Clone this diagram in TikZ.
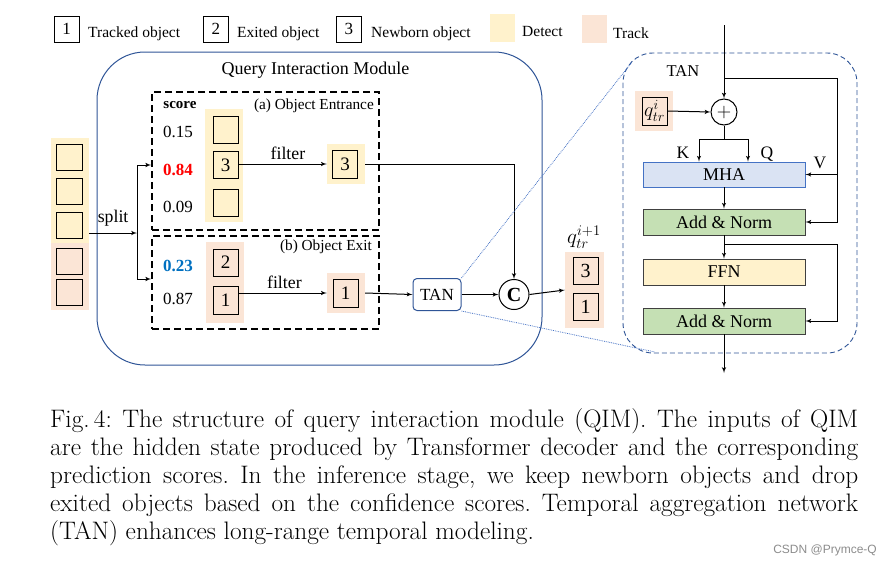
\RequirePackage{fix-cm}
\documentclass[tikz,border=0pt]{standalone}
\usepackage{fontspec}
\newfontfamily\tnr{Liberation Serif}
\newfontfamily\wmfont{Liberation Sans}
\usetikzlibrary{arrows}
\usetikzlibrary{positioning, calc}

\definecolor{detect}{HTML}{FFF2CC}
\definecolor{track}{HTML}{FBE5D6}
\definecolor{qimblue}{HTML}{2F5597}
\definecolor{dotblue}{HTML}{4472C4}
\definecolor{mhablue}{HTML}{DAE3F3}
\definecolor{normgreen}{HTML}{C5E0B4}
\definecolor{scorered}{HTML}{FF0000}
\definecolor{scoreblue}{HTML}{0070C0}

\newcommand{\fsz}[1]{\fontsize{#1}{#1}\selectfont}

\begin{document}
\begin{tikzpicture}[x=1pt,y=-1pt,>=latex',
  obj/.style={draw,line width=0.9pt,minimum width=25pt,minimum height=27pt,inner sep=0pt,font=\tnr\fsz{19}},
  colfill/.style={inner sep=0pt,minimum width=38pt},
  block/.style={draw=black!75,line width=0.8pt,minimum width=162pt,minimum height=26pt,inner sep=0pt,font=\tnr\fsz{18}},
  flow/.style={->,line width=1pt},
  stagebox/.style={draw,line width=1.6pt,dash pattern=on 7pt off 4pt,inner sep=0pt},
  txt/.style={font=\tnr\fsz{#1},inner sep=0pt},
  capline/.style={anchor=base west,inner sep=0pt,font=\fsz{25.3}\frenchspacing},
]

\useasboundingbox (0,0) rectangle (891,565);

% legend
\node[obj,minimum height=26pt,font=\tnr\fsz{17}] (leg-1) at (66.5,29) {1};
\node[txt=15.5,anchor=base west] (leg-1-txt) at (88,37.5) {Tracked object};
\node[obj,minimum height=26pt,font=\tnr\fsz{17}] (leg-2) at (215.8,29) {2};
\node[txt=15.5,anchor=base west] (leg-2-txt) at (237,37.5) {Exited object};
\node[obj,minimum height=26pt,font=\tnr\fsz{17}] (leg-3) at (348.8,29) {3};
\node[txt=15.5,anchor=base west] (leg-3-txt) at (371,37.5) {Newborn object};
\node[colfill,fill=detect,minimum width=25pt,minimum height=28pt] (leg-det) at (502.5,28) {};
\node[txt=15.5,anchor=base west] (leg-det-txt) at (522,36) {Detect};
\node[colfill,fill=track,minimum width=25pt,minimum height=28pt] (leg-trk) at (594.5,29) {};
\node[txt=15.5,anchor=base west] (leg-trk-txt) at (613,38.3) {Track};

% input queries
\node[colfill,fill=detect,minimum height=105pt] (in-det) at (70,190.5) {};
\node[colfill,fill=track,minimum height=67pt] (in-trk) at (70,276.5) {};
\foreach \y [count=\i] in {157,191,225.5,261,292}
  \node[obj,minimum width=26pt,minimum height=26pt] (in-\i) at (69.5,\y) {};

% query interaction module
\draw[qimblue,line width=1pt,rounded corners=48pt] (97,52) rectangle (542,365);
\node[txt=18,anchor=base] (qim) at (315.5,74) {Query Interaction Module};

\node[stagebox,minimum width=227pt,minimum height=138pt] (entr) at (265.5,161) {};
\node[stagebox,minimum width=227pt,minimum height=93pt] (exit) at (265.5,282.5) {};

% (a) object entrance
\node[txt=15,font=\tnr\bfseries\fsz{15},anchor=base] (score) at (180,108) {score};
\node[txt=15.3,anchor=base east] (entr-txt) at (374,109.5) {(a) Object Entrance};
\node[txt=17,anchor=base west] (s-1) at (163,137.5) {0.15};
\node[txt=17,anchor=base west,font=\tnr\bfseries\fsz{17},text=scorered] (s-2) at (163,175) {0.84};
\node[txt=17,anchor=base west] (s-3) at (163,212) {0.09};
\node[colfill,fill=detect,minimum height=113pt] (det-fill) at (224,165.5) {};
\node[obj] (det-1) at (225.5,130) {};
\node[obj] (det-2) at (225.5,165) {3};
\node[obj] (det-3) at (225.5,203) {};
\node[colfill,fill=detect,minimum height=40pt] (newq-fill) at (346,164) {};
\node[obj,minimum height=28pt] (newq) at (345,164) {3};
\draw[flow] (det-2.east |- newq-fill) -- node[above=4pt,pos=0.56,txt=17.8] (filt-a) {filter} (newq-fill.west);

% (b) object exit
\node[txt=15.3,anchor=base east] (exit-txt) at (372,250.7) {(b) Object Exit};
\node[txt=17,anchor=base west,font=\tnr\bfseries\fsz{17},text=scoreblue] (s-4) at (163,271) {0.23};
\node[txt=17,anchor=base west] (s-5) at (163,304) {0.87};
\node[colfill,fill=track,minimum height=81pt] (trk-fill) at (225,282.5) {};
\node[obj] (trk-1) at (225.5,262.5) {2};
\node[obj,minimum height=28pt] (trk-2) at (225.5,300) {1};
\node[colfill,fill=track,minimum height=40pt] (exitq-fill) at (346,293) {};
\node[obj,minimum height=28pt] (exitq) at (345.5,293) {1};
\draw[flow] (trk-2.east |- exitq-fill) -- node[above=4pt,pos=0.52,txt=17.8] (filt-b) {filter} (exitq-fill.west);

% split
\coordinate (split) at (137,233);
\draw[flow] (in-det.east |- split) -- node[above=6pt,txt=17.8] (split-txt) {split} (split);
\draw[flow] (split) |- (entr.west |- det-2);
\draw[flow] (split) |- (exit.west |- 0,279);

% tan and concat
\node[draw=qimblue,line width=1pt,rounded corners=4pt,minimum width=48pt,minimum height=32pt,txt=17] (tan) at (437,294.5) {TAN};
\node[circle,draw,line width=1pt,minimum size=30pt,inner sep=0pt,font=\tnr\bfseries\fsz{20}] (cat) at (514,294.5) {C};
\draw[flow] (exitq-fill.east) -- (tan.west);
\draw[flow] (tan.east) -- (cat.west);
\draw[flow] (newq-fill.east) -| (cat.north);

% output
\node[colfill,fill=track,minimum width=39pt,minimum height=76pt] (out-fill) at (584.5,290) {};
\node[obj,font=\tnr\fsz{20}] (out-1) at (585.5,271) {3};
\node[obj,font=\tnr\fsz{20}] (out-2) at (585.5,306.5) {1};
\node[inner sep=0pt,anchor=base] (out-txt) at (584,243) {\fsz{21}$q_{tr}^{i+1}$};
\draw[flow] (cat.east) -- (out-fill.west);

% tan detail
\draw[qimblue,line width=0.9pt,dash pattern=on 5pt off 3pt,rounded corners=30pt] (623,53) rectangle (857,353);
\node[txt=16.5,anchor=base] (tan-txt) at (683,76) {TAN};
\node[circle,draw,line width=1pt,minimum size=26pt,inner sep=0pt] (add) at (724,112) {\fsz{20}$+$};
\node[colfill,fill=track,minimum height=40pt] (q-fill) at (654,111) {};
\node[obj,minimum height=28pt] (q-in) at (654.5,111) {\fsz{20}$q_{tr}^{i}$};
\node[block,draw=dotblue,fill=mhablue,minimum height=25pt] (mha) at (724,174.5) {MHA};
\node[block,fill=normgreen] (an-1) at (724,222) {Add \& Norm};
\node[block,fill=detect] (ffn) at (724,272) {FFN};
\node[block,fill=normgreen] (an-2) at (724,321) {Add \& Norm};

\coordinate (t-in) at (724,25);
\coordinate (v-split) at (724,78);
\coordinate (v-turn) at (837,78);
\coordinate (kq) at (724,139);
\coordinate (r-split) at (724,244);
\coordinate (r-turn) at (837,244);
\coordinate (t-out) at (724,373);

\draw[flow] (t-in) -- (add.north);
\draw[flow] (q-in.east) -- (add.west);
\draw[flow] (v-split) -- (v-turn) |- (an-1.east);
\draw[flow] (v-turn |- mha.east) -- (mha.east);
\draw[line width=1pt] (add.south) -- (kq);
\draw[flow] (kq) -| ([xshift=-25pt]mha.north);
\draw[flow] (kq) -| ([xshift=24pt]mha.north);
\node[txt=17.5,anchor=base] (k-txt) at (683,158) {K};
\node[txt=17.5,anchor=base] (q-txt) at (767,158) {Q};
\node[txt=17.5,anchor=base] (v-txt) at (820,168) {V};
\draw[flow] (mha) -- (an-1);
\draw[flow] (an-1) -- (ffn);
\draw[flow] (r-split) -- (r-turn) |- (an-2.east);
\draw[flow] (ffn) -- (an-2);
\draw[flow] (an-2) -- (t-out);

% zoom lines
\coordinate (zoom-top) at (632,62);
\coordinate (zoom-bot) at (655,352);
\draw[dotblue,densely dotted,line width=0.8pt] (tan.north east) -- (zoom-top);
\draw[dotblue,densely dotted,line width=0.8pt] (tan.south east) -- (zoom-bot);

% caption
\node[capline] (cap-1) at (50,427) {\makebox[808pt][s]{Fig.\,4: The structure of query interaction module (QIM). The inputs of QIM}};
\node[capline] (cap-2) at (50,455.1) {\makebox[808pt][s]{are the hidden state produced by Transformer decoder and the corresponding}};
\node[capline] (cap-3) at (50,483.2) {\makebox[808pt][s]{prediction scores. In the inference stage, we keep newborn objects and drop}};
\node[capline] (cap-4) at (50,511.3) {\makebox[808pt][s]{exited objects based on the confidence scores. Temporal aggregation network}};
\node[capline] (cap-5) at (50,539.4) {(TAN) enhances long-range temporal modeling.};
\node[anchor=base east,inner sep=0pt,font=\wmfont\fsz{12},text=black!45] (mark) at (877,553) {CSDN @Prymce-Q};

\end{tikzpicture}
\end{document}
